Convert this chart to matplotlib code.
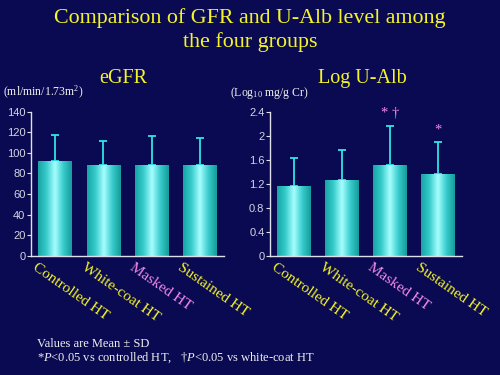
import numpy as np
import matplotlib
matplotlib.use('Agg')
import matplotlib.pyplot as plt
from matplotlib.transforms import ScaledTranslation
from matplotlib.colors import LinearSegmentedColormap

# ---------------- data ----------------
groups = ['Controlled HT', 'White-coat HT', 'Masked HT', 'Sustained HT']
egfr_mean = [92, 88, 88, 88]
egfr_sd = [25, 23.5, 28.5, 26.5]
ualb_mean = [1.17, 1.27, 1.52, 1.37]
ualb_sd = [0.46, 0.50, 0.65, 0.52]
ualb_marks = ['', '', '* \u2020', '*']
egfr_ticks = [0, 20, 40, 60, 80, 100, 120, 140]
ualb_ticks = [0, 0.4, 0.8, 1.2, 1.6, 2.0, 2.4]
ualb_ticklabels = ['0', '0.4', '0.8', '1.2', '1.6', '2', '2.4']

# ---------------- style ----------------
BG = '#0a0a52'
YELLOW = '#f4f428'
PINK = '#f08ae8'
WHITE = '#f0f0f0'
TICKC = '#d4d4e4'
ERRC = '#30e4e4'
label_colors = [YELLOW, YELLOW, PINK, YELLOW]

plt.rcParams['mathtext.fontset'] = 'custom'
plt.rcParams['mathtext.rm'] = 'Liberation Serif'
plt.rcParams['mathtext.it'] = 'Liberation Serif:italic'
SERIF = ['Liberation Serif']
SANS = ['Liberation Sans']

W, H = 500, 375
fig = plt.figure(figsize=(5, 3.75), dpi=100, facecolor=BG)

def px_axes(x0, x1, ytop, ybot):
    return fig.add_axes([x0 / W, (H - ybot) / H, (x1 - x0) / W, (ybot - ytop) / H])

cmap = LinearSegmentedColormap.from_list('bar', ['#18a4a4', '#38cccc', '#a8ffff', '#38cccc', '#169c9c'])
grad = np.linspace(0, 1, 64).reshape(1, -1)

def panel(ax, means, sds, ticks, ticklabels, ymax):
    ax.set_facecolor('none')
    x = np.arange(len(groups))
    bw = 0.69
    bars = ax.bar(x, means, width=bw, color='#3cd0d0', zorder=2, linewidth=0)
    for b in bars:
        im = ax.imshow(grad, extent=[b.get_x(), b.get_x() + b.get_width(), 0, b.get_height()],
                       aspect='auto', cmap=cmap, zorder=2.1, interpolation='bicubic')
        im.set_clip_path(b)
    ax.errorbar(x, means, yerr=[np.zeros(len(sds)), sds], fmt='none', ecolor=ERRC,
                elinewidth=1.3, capsize=2.6, capthick=1.3, zorder=1.5)
    ax.set_xlim(-0.5, 3.5)
    ax.set_ylim(0, ymax)
    for s in ['top', 'right']:
        ax.spines[s].set_visible(False)
    for s in ['left', 'bottom']:
        ax.spines[s].set_color('#e0e0ec')
        ax.spines[s].set_linewidth(1.0)
    ax.set_yticks(ticks)
    ax.set_yticklabels(ticklabels, family=SANS, fontsize=8, color=TICKC)
    ax.tick_params(axis='y', direction='out', length=3, width=0.8, color='#e0e0ec', pad=1)
    ax.set_xticks(x)
    labs = ax.set_xticklabels(groups, rotation=-35, ha='left', va='top',
                              rotation_mode='anchor', family=SERIF, fontsize=11)
    ax.tick_params(axis='x', length=0, pad=4)
    off = ScaledTranslation(-0.17, 0, fig.dpi_scale_trans)
    for lab, c in zip(labs, label_colors):
        lab.set_color(c)
        lab.set_transform(lab.get_transform() + off)
    return x

axL = px_axes(31, 224, 111.7, 255.7)
panel(axL, egfr_mean, egfr_sd, egfr_ticks, [str(t) for t in egfr_ticks], 140)

axR = px_axes(270, 462, 111.7, 255.7)
xr = panel(axR, ualb_mean, ualb_sd, ualb_ticks, ualb_ticklabels, 2.4)
for xi, m, s, mk in zip(xr, ualb_mean, ualb_sd, ualb_marks):
    if mk:
        axR.annotate(mk, (xi, m + s), xytext=(0, 6), textcoords='offset points',
                     ha='center', va='baseline', color=PINK, fontsize=10.5, family=SERIF)

# ---------------- texts ----------------
def ft(x, y, s, **kw):
    fig.text(x / W, 1 - y / H, s, **kw)

ft(250, 22.7, 'Comparison of GFR and U-Alb level among', ha='center', va='baseline',
   color=YELLOW, fontsize=15.8, family=SERIF)
ft(250, 46.7, 'the four groups', ha='center', va='baseline',
   color=YELLOW, fontsize=15.8, family=SERIF)
ft(123, 83, 'eGFR', ha='center', va='baseline', color=YELLOW, fontsize=14.5, family=SERIF)
ft(362, 83, 'Log U-Alb', ha='center', va='baseline', color=YELLOW, fontsize=14.5, family=SERIF)
ft(3, 96, '(ml/min/1.73m$^{2}$)', ha='left', va='baseline', color=WHITE, fontsize=8.5,
   family=SERIF)
ft(230, 96, '(Log$_{10}$ mg/g Cr)', ha='left', va='baseline', color=WHITE, fontsize=8.5,
   family=SERIF)
ft(37, 346.7, 'Values are Mean \u00b1 SD', ha='left', va='baseline', color=WHITE,
   fontsize=9, family=SERIF)
ft(37, 361, '*$\\mathit{P}$<0.05 vs controlled HT,   \u2020$\\mathit{P}$<0.05 vs white-coat HT',
   ha='left', va='baseline', color=WHITE, fontsize=9, family=SERIF)

fig.savefig('out.png', dpi=100, facecolor=BG)
